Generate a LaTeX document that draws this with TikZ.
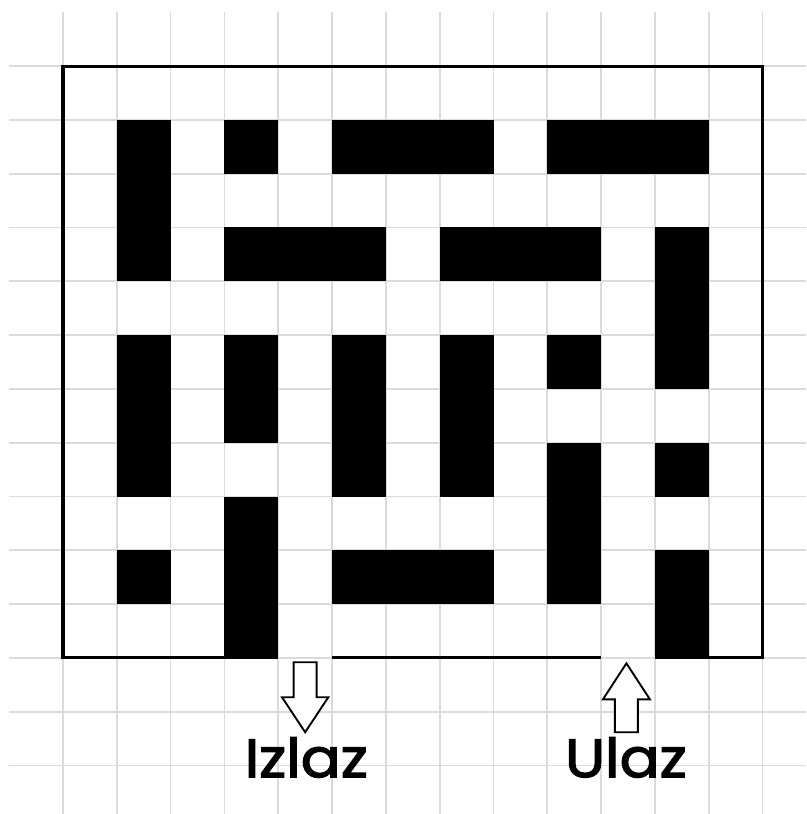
\documentclass[tikz,border=0pt]{standalone}
\usepackage{fontspec}
\newfontfamily\labfont{Poppins}[FakeBold=2.5, FakeStretch=1.1]
\begin{document}
\begin{tikzpicture}[x=1cm,y=1cm,
  gridline/.style={draw=black!14, line width=0.9pt},
  wall/.style={fill=black},
  border/.style={draw=black, line width=1.6pt},
  arrowshape/.style={draw=black, fill=white, line width=1pt, line join=miter},
  lab/.style={font=\labfont\fontsize{28.5}{30}\selectfont, inner sep=0pt, anchor=base}]
\useasboundingbox (-1.171,1.227) rectangle (13.81,-13.90);
% grid
\foreach \i in {0,...,13} \draw[gridline] (\i,1) -- (\i,-13.9);
\foreach \j in {0,...,13} \draw[gridline] (-1,-\j) -- (13.81,-\j);
% walls (column, row, width, height)
\foreach \c/\r/\w/\h in {1/1/1/3, 3/1/1/1, 5/1/3/1, 9/1/3/1,
    3/3/3/1, 7/3/3/1, 11/3/1/3,
    1/5/1/3, 3/5/1/2, 5/5/1/3, 7/5/1/3, 9/5/1/1,
    9/7/1/3, 11/7/1/1, 3/8/1/3, 1/9/1/1, 5/9/3/1, 11/9/1/2}
  \fill[wall] (\c,-\r) rectangle ({\c+\w},{-\r-\h});
% border with the two openings
\draw[border] (4,-11) -- (0,-11) -- (0,0) -- (13,0) -- (13,-11) -- (11,-11);
\draw[border] (5,-11) -- (10,-11);
% arrows
\coordinate (outtip) at (4.5,-12.38);
\coordinate (intip) at (10.47,-11.10);
\draw[arrowshape] (4.286,-11.08) -- (4.714,-11.08) -- (4.714,-11.73) -- (4.93,-11.73)
  -- (outtip) -- (4.07,-11.73) -- (4.286,-11.73) -- cycle;
\draw[arrowshape] (intip) -- (10.907,-11.77) -- (10.684,-11.77) -- (10.684,-12.38)
  -- (10.256,-12.38) -- (10.256,-11.77) -- (10.033,-11.77) -- cycle;
% labels
\node[lab] (izlaz) at (4.52,-13.215) {Izlaz};
\node[lab] (ulaz) at (10.46,-13.215) {Ulaz};
\end{tikzpicture}
\end{document}
